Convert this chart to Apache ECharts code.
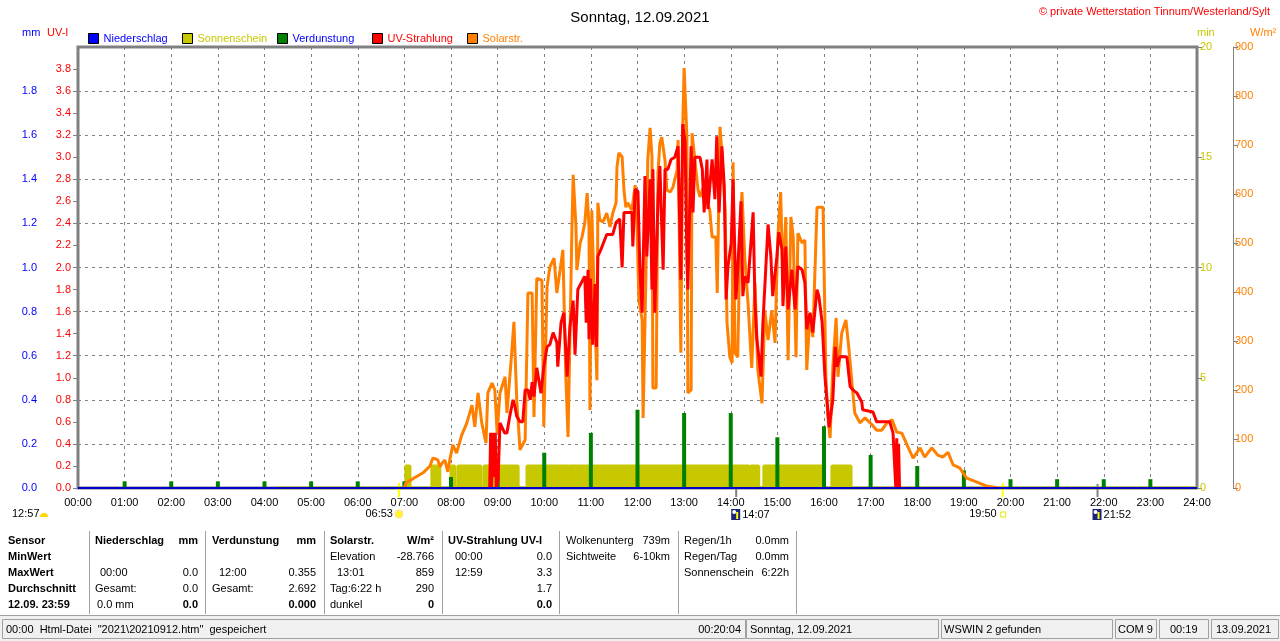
<!DOCTYPE html>
<html>
<head>
<meta charset="utf-8">
<script src="https://cdn.jsdelivr.net/npm/echarts/dist/echarts.min.js"></script>
<style>
  html, body { margin: 0; padding: 0; background: #fff; }
  #chart { width: 1280px; height: 641px; }
</style>
</head>
<body>
<div id="chart"></div>
<script type="text/javascript">
  // --- data (time in decimal hours) ---
  var rainTimes = [0, 24];
  var rainValues = [0, 0];

  var evapHours = [1, 2, 3, 4, 5, 6, 7, 8, 9, 10, 11, 12, 13, 14, 15, 16, 17, 18, 19, 20, 21, 22, 23];
  var evapValues = [0.03, 0.03, 0.03, 0.03, 0.03, 0.03, 0.03, 0.05, 0.10, 0.16, 0.25, 0.355, 0.34, 0.34, 0.23, 0.28, 0.15, 0.10, 0.08, 0.04, 0.04, 0.04, 0.04];

  // sunshine minutes: data start and periods with full sunshine (1 min per min)
  var sunDataStart = 4.28;
  var sunStart = [7.03, 7.59, 8.00, 8.15, 8.71, 9.24, 9.63, 10.53, 14.43, 14.71, 16.17];
  var sunEnd   = [7.12, 7.76, 8.08, 8.64, 9.22, 9.44, 10.51, 14.39, 14.60, 15.96, 16.58];

  // solar radiation [hour, W/m²]
  var solarPoints = [
    [7.00, 0], [7.03, 10], [7.20, 20], [7.40, 31], [7.55, 45], [7.61, 61], [7.66, 60], [7.72, 57], [7.76, 43], [7.82, 52],
    [7.87, 57], [7.93, 33], [7.98, 60], [8.04, 88], [8.12, 71], [8.23, 108], [8.34, 133], [8.45, 169], [8.51, 125], [8.58, 194],
    [8.66, 133], [8.75, 92], [8.79, 194], [8.88, 214], [8.94, 200], [8.99, 112], [9.05, 194], [9.16, 227], [9.20, 153], [9.29, 261],
    [9.35, 339], [9.41, 180], [9.48, 78], [9.59, 98], [9.65, 398], [9.74, 398], [9.78, 145], [9.84, 428], [9.95, 424], [9.99, 125],
    [10.06, 410], [10.12, 451], [10.21, 469], [10.27, 398], [10.34, 445], [10.40, 486], [10.46, 235], [10.51, 104], [10.55, 300], [10.59, 512],
    [10.62, 639], [10.68, 533], [10.70, 445], [10.77, 500], [10.81, 512], [10.87, 541], [10.92, 602], [10.96, 533], [10.98, 159], [11.02, 567],
    [11.07, 398], [11.13, 220], [11.15, 582], [11.19, 547], [11.26, 543], [11.34, 561], [11.41, 533], [11.47, 561], [11.54, 582], [11.56, 655],
    [11.60, 684], [11.67, 676], [11.71, 608], [11.75, 573], [11.79, 582], [11.88, 567], [11.95, 618], [11.99, 533], [12.03, 384], [12.10, 343],
    [12.12, 143], [12.18, 431], [12.22, 669], [12.27, 735], [12.31, 676], [12.33, 204], [12.40, 204], [12.44, 643], [12.48, 704], [12.52, 716],
    [12.59, 669], [12.63, 608], [12.70, 604], [12.76, 614], [12.85, 649], [12.87, 710], [12.93, 276], [12.97, 737], [13.00, 857], [13.06, 716],
    [13.08, 194], [13.15, 200], [13.17, 724], [13.23, 669], [13.30, 608], [13.34, 594], [13.41, 614], [13.45, 614], [13.55, 567], [13.60, 512],
    [13.68, 512], [13.71, 398], [13.77, 737], [13.81, 683], [13.88, 567], [13.92, 337], [13.98, 267], [14.03, 255], [14.05, 665], [14.09, 276],
    [14.15, 267], [14.20, 512], [14.24, 604], [14.30, 471], [14.37, 378], [14.45, 245], [14.52, 418], [14.58, 241], [14.67, 173], [14.73, 363],
    [14.80, 302], [14.88, 363], [14.95, 296], [15.01, 512], [15.07, 604], [15.12, 418], [15.18, 553], [15.23, 261], [15.29, 553], [15.34, 512],
    [15.40, 267], [15.44, 520], [15.53, 500], [15.59, 506], [15.63, 241], [15.70, 357], [15.76, 308], [15.85, 573], [15.98, 573], [16.04, 227],
    [16.08, 150], [16.13, 102], [16.19, 247], [16.26, 347], [16.30, 227], [16.38, 316], [16.47, 343], [16.53, 288], [16.60, 214], [16.66, 153],
    [16.77, 133], [16.88, 143], [17.03, 129], [17.13, 118], [17.24, 118], [17.35, 133], [17.46, 139], [17.56, 114], [17.67, 112], [17.80, 84],
    [17.91, 61], [18.06, 82], [18.16, 63], [18.31, 82], [18.44, 67], [18.55, 63], [18.66, 73], [18.77, 47], [18.91, 41], [19.06, 20],
    [19.28, 12], [19.49, 4], [19.62, 2], [19.75, 0]
  ];

  // UV index [hour, UV-I]
  var uvPoints = [
    [8.83, 0], [8.85, 0.5], [8.87, 0], [8.89, 0.5], [8.92, 0.1], [8.95, 0.5], [8.97, 0], [9.01, 0.07], [9.05, 0.59], [9.09, 0.59],
    [9.15, 0.50], [9.20, 0.50], [9.26, 0.65], [9.33, 0.80], [9.37, 0.74], [9.41, 0.65], [9.48, 0.60], [9.54, 0.60], [9.59, 0.89], [9.65, 0.89],
    [9.70, 0.80], [9.74, 0.96], [9.78, 0.83], [9.84, 1.09], [9.88, 1.09], [9.93, 0.86], [9.99, 1.10], [10.06, 1.28], [10.12, 1.30], [10.19, 1.41],
    [10.27, 1.32], [10.29, 1.10], [10.36, 1.50], [10.42, 1.59], [10.49, 1.01], [10.55, 1.46], [10.62, 1.70], [10.66, 1.21], [10.72, 1.80], [10.83, 1.89],
    [10.87, 1.92], [10.90, 1.50], [10.94, 1.98], [10.96, 1.35], [10.99, 1.90], [11.04, 1.30], [11.09, 1.85], [11.12, 1.28], [11.15, 2.10], [11.24, 2.19],
    [11.34, 2.30], [11.47, 2.30], [11.54, 2.41], [11.62, 2.44], [11.67, 2.00], [11.71, 2.50], [11.88, 2.50], [11.90, 2.19], [11.95, 2.71], [12.01, 2.69],
    [12.05, 2.01], [12.10, 1.59], [12.16, 2.83], [12.20, 2.10], [12.27, 2.80], [12.31, 1.80], [12.33, 2.89], [12.37, 1.59], [12.44, 2.62], [12.48, 2.92],
    [12.52, 2.37], [12.55, 1.98], [12.59, 2.89], [12.65, 2.89], [12.72, 2.98], [12.80, 3.00], [12.87, 3.10], [12.93, 1.89], [12.97, 3.30], [13.02, 3.14],
    [13.06, 2.07], [13.08, 1.80], [13.15, 3.10], [13.19, 2.50], [13.23, 3.00], [13.34, 3.00], [13.39, 2.89], [13.43, 2.50], [13.49, 2.98], [13.51, 2.53],
    [13.60, 2.98], [13.66, 2.62], [13.70, 3.19], [13.75, 2.50], [13.81, 3.10], [13.86, 2.74], [13.90, 1.71], [13.94, 2.01], [14.01, 2.22], [14.05, 2.80],
    [14.11, 1.71], [14.15, 1.98], [14.22, 2.60], [14.26, 1.74], [14.30, 1.92], [14.37, 1.86], [14.48, 2.50], [14.52, 1.68], [14.56, 1.35], [14.65, 1.01],
    [14.69, 1.50], [14.75, 1.98], [14.80, 2.39], [14.86, 2.10], [14.90, 1.74], [14.99, 2.10], [15.03, 2.32], [15.10, 2.16], [15.12, 1.65], [15.18, 2.19],
    [15.23, 1.62], [15.31, 1.98], [15.38, 1.62], [15.44, 2.01], [15.53, 1.98], [15.59, 1.86], [15.63, 1.44], [15.70, 1.59], [15.76, 1.41], [15.85, 1.80],
    [15.89, 1.74], [15.96, 1.50], [16.02, 1.01], [16.08, 0.71], [16.11, 0.55], [16.19, 0.80], [16.24, 1.28], [16.28, 1.10], [16.34, 1.19], [16.49, 1.19],
    [16.56, 0.92], [16.62, 0.89], [16.71, 0.86], [16.81, 0.78], [16.83, 0.71], [17.05, 0.69], [17.13, 0.60], [17.41, 0.60], [17.48, 0.50], [17.52, 0.50],
    [17.54, 0], [17.56, 0.45], [17.58, 0], [17.60, 0.40], [17.62, 0]
  ];

  // sun / moon times shown under the axis
  var sunrise = '06:53', sunset = '19:50', moonrise = '14:07', moonset = '21:52', dayMark = '12:57';

  function zip(t, v) {
    var out = [];
    for (var i = 0; i < t.length; i++) out.push([t[i], v[i]]);
    return out;
  }
  function toHours(s) {
    var p = s.split(':');
    return parseInt(p[0], 10) + parseInt(p[1], 10) / 60;
  }

  // sunshine blocks as a filled outline
  var sunData = [[sunDataStart, 0]];
  for (var i = 0; i < sunStart.length; i++) {
    sunData.push([sunStart[i], 0], [sunStart[i], 1], [sunEnd[i], 1], [sunEnd[i], 0]);
  }
  sunData.push([24, 0]);

  var FONT = 'Liberation Sans, Arial, sans-serif';
  var GRAY = '#808080';

  var chart = echarts.init(document.getElementById('chart'), null, { renderer: 'canvas' });

  function oneLegend(name, color, left) {
    return {
      left: left, top: 33, padding: 0, itemWidth: 10, itemHeight: 10, itemGap: 0, icon: 'rect',
      selectedMode: false,
      itemStyle: { borderColor: '#000', borderWidth: 1 },
      textStyle: { fontSize: 11, fontFamily: FONT, color: color },
      data: [{ name: name, textStyle: { color: color } }]
    };
  }

  var option = {
    animation: false,
    textStyle: { fontFamily: FONT },
    title: {
      text: 'Sonntag, 12.09.2021', left: 'center', top: 5,
      textStyle: { fontSize: 15, fontWeight: 'normal', color: '#000', fontFamily: FONT }
    },
    legend: [
      oneLegend('Niederschlag', '#0000ff', 88),
      oneLegend('Sonnenschein', '#c8c800', 182),
      oneLegend('Verdunstung', '#0000ff', 277),
      oneLegend('UV-Strahlung', '#ff0000', 372),
      oneLegend('Solarstr.', '#ff8000', 467)
    ],
    grid: {
      left: 78, right: 83, top: 47, bottom: 153,
      show: true, borderColor: GRAY, borderWidth: 3
    },
    xAxis: {
      type: 'value', min: 0, max: 24, interval: 1,
      axisLine: { show: false },
      axisTick: { show: false },
      axisLabel: {
        color: '#000', fontSize: 11, margin: 9,
        formatter: function (v) { return (v < 10 ? '0' : '') + v + ':00'; }
      },
      splitLine: { show: true, lineStyle: { color: GRAY, type: [3, 4], width: 1 } }
    },
    yAxis: [
      {
        type: 'value', position: 'left', offset: 38, min: 0, max: 2, interval: 0.2,
        axisLine: { show: true, lineStyle: { color: GRAY } },
        axisTick: { show: true, length: 4, lineStyle: { color: GRAY } },
        axisLabel: { color: '#0000ff', fontSize: 11, margin: 3, showMaxLabel: false,
          formatter: function (v) { return v.toFixed(1); } },
        splitLine: { show: true, lineStyle: { color: GRAY, type: [3, 4], width: 1 } }
      },
      {
        type: 'value', position: 'left', offset: 0, min: 0, max: 4, interval: 0.2,
        axisLine: { show: false },
        axisTick: { show: true, length: 5, lineStyle: { color: GRAY } },
        axisLabel: { color: '#ff0000', fontSize: 11, margin: 7, showMaxLabel: false,
          formatter: function (v) { return v.toFixed(1); } },
        splitLine: { show: false }
      },
      {
        type: 'value', position: 'right', offset: 0, min: 0, max: 20, interval: 5,
        axisLine: { show: false },
        axisTick: { show: true, length: 5, lineStyle: { color: GRAY } },
        axisLabel: { color: '#c8c800', fontSize: 11, margin: 3 },
        splitLine: { show: false }
      },
      {
        type: 'value', position: 'right', offset: 36, min: 0, max: 900, interval: 100,
        axisLine: { show: true, lineStyle: { color: GRAY } },
        axisTick: { show: true, length: 5, lineStyle: { color: GRAY } },
        axisLabel: { color: '#ff8000', fontSize: 11, margin: 2 },
        splitLine: { show: false }
      }
    ],
    series: [
      {
        name: 'Sonnenschein', type: 'line', yAxisIndex: 2, data: sunData,
        symbol: 'none', z: 1, color: '#c8c800',
        lineStyle: { color: '#c8c800', width: 3 },
        areaStyle: { color: '#c8c800', opacity: 1 }
      },
      {
        name: 'Verdunstung', type: 'bar', yAxisIndex: 0, data: zip(evapHours, evapValues),
        barWidth: 4, z: 2, itemStyle: { color: '#008000' }
      },
      {
        name: 'Solarstr.', type: 'line', yAxisIndex: 3, data: solarPoints,
        symbol: 'none', z: 3, color: '#ff8000',
        lineStyle: { color: '#ff8000', width: 3 }
      },
      {
        name: 'UV-Strahlung', type: 'line', yAxisIndex: 1, data: uvPoints,
        symbol: 'none', z: 4, color: '#ff0000',
        lineStyle: { color: '#ff0000', width: 3 }
      },
      {
        name: 'Niederschlag', type: 'line', yAxisIndex: 0, data: zip(rainTimes, rainValues),
        symbol: 'none', z: 5, color: '#0000ff',
        lineStyle: { color: '#0000c8', width: 2 }
      }
    ]
  };
  chart.setOption(option);

  // --- annotations, table and status bar ---
  function txt(s, x, y, color, align, bold, size) {
    return {
      type: 'text', x: x, y: y, silent: true,
      style: {
        text: s, fill: color || '#000', textAlign: align || 'left', textVerticalAlign: 'middle',
        font: (bold ? 'bold ' : '') + (size || 11) + 'px ' + FONT
      }
    };
  }
  function vline(x, y1, y2, color, w) {
    return { type: 'line', silent: true, shape: { x1: x, y1: y1, x2: x, y2: y2 },
      style: { stroke: color, lineWidth: w || 1 } };
  }
  function px(t) { return chart.convertToPixel({ xAxisIndex: 0 }, t); }

  var g = [];
  g.push(txt('© private Wetterstation Tinnum/Westerland/Sylt', 1270, 12, '#ff0000', 'right', false, 11));
  g.push(txt('mm', 22, 33, '#0000ff'));
  g.push(txt('UV-I', 47, 33, '#ff0000'));
  g.push(txt('min', 1197, 33, '#c8c800'));
  g.push(txt('W/m²', 1250, 33, '#ff8000'));

  // day length marker on the far left
  g.push(txt(dayMark, 12, 514));
  g.push({ type: 'sector', silent: true, shape: { cx: 44, cy: 517, r: 4, startAngle: Math.PI, endAngle: 2 * Math.PI },
    style: { fill: '#ffd800' } });

  // sunrise
  var xr = px(toHours(sunrise));
  g.push(vline(xr, 483, 497, '#ffff00', 2));
  g.push({ type: 'circle', silent: true, shape: { cx: xr, cy: 514, r: 3.5 }, style: { fill: '#ffff00', stroke: '#ffe680', lineWidth: 2 } });
  g.push(txt(sunrise, xr - 6, 514, '#000', 'right'));
  // sunset
  var xs = px(toHours(sunset));
  g.push(vline(xs, 483, 497, '#ffff00', 2));
  g.push({ type: 'rect', silent: true, shape: { x: xs - 2, y: 512, width: 5, height: 5 }, style: { fill: 'none', stroke: '#e6e600', lineWidth: 1 } });
  g.push(txt(sunset, xs - 6, 514, '#000', 'right'));
  // moonrise / moonset
  [moonrise, moonset].forEach(function (m) {
    var xm = px(toHours(m));
    g.push(vline(xm, 484, 497, GRAY, 2));
    g.push({ type: 'rect', silent: true, shape: { x: xm - 5, y: 509, width: 9, height: 11 }, style: { fill: '#1a237e' } });
    g.push({ type: 'circle', silent: true, shape: { cx: xm - 2, cy: 512, r: 2 }, style: { fill: '#fff' } });
    g.push(vline(xm + 1, 512, 519, '#ffff00', 2));
    g.push(txt(m, xm + 6, 515));
  });

  // table
  var rowY = [541, 557, 573, 589, 605];
  var cells = [
    ['Sensor', 8, 0, 'left', true], ['MinWert', 8, 1, 'left', true], ['MaxWert', 8, 2, 'left', true],
    ['Durchschnitt', 8, 3, 'left', true], ['12.09. 23:59', 8, 4, 'left', true],
    ['Niederschlag', 95, 0, 'left', true], ['mm', 198, 0, 'right', true],
    ['00:00', 100, 2, 'left'], ['0.0', 198, 2, 'right'], ['Gesamt:', 95, 3, 'left'], ['0.0', 198, 3, 'right'],
    ['0.0 mm', 97, 4, 'left'], ['0.0', 198, 4, 'right', true],
    ['Verdunstung', 212, 0, 'left', true], ['mm', 316, 0, 'right', true],
    ['12:00', 219, 2, 'left'], ['0.355', 316, 2, 'right'], ['Gesamt:', 212, 3, 'left'], ['2.692', 316, 3, 'right'],
    ['0.000', 316, 4, 'right', true],
    ['Solarstr.', 330, 0, 'left', true], ['W/m²', 434, 0, 'right', true],
    ['Elevation', 330, 1, 'left'], ['-28.766', 434, 1, 'right'], ['13:01', 337, 2, 'left'], ['859', 434, 2, 'right'],
    ['Tag:6:22 h', 330, 3, 'left'], ['290', 434, 3, 'right'], ['dunkel', 330, 4, 'left'], ['0', 434, 4, 'right', true],
    ['UV-Strahlung UV-I', 448, 0, 'left', true],
    ['00:00', 455, 1, 'left'], ['0.0', 552, 1, 'right'], ['12:59', 455, 2, 'left'], ['3.3', 552, 2, 'right'],
    ['1.7', 552, 3, 'right'], ['0.0', 552, 4, 'right', true],
    ['Wolkenunterg', 566, 0, 'left'], ['739m', 670, 0, 'right'], ['Sichtweite', 566, 1, 'left'], ['6-10km', 670, 1, 'right'],
    ['Regen/1h', 684, 0, 'left'], ['0.0mm', 789, 0, 'right'], ['Regen/Tag', 684, 1, 'left'], ['0.0mm', 789, 1, 'right'],
    ['Sonnenschein', 684, 2, 'left'], ['6:22h', 789, 2, 'right']
  ];
  cells.forEach(function (c) { g.push(txt(c[0], c[1], rowY[c[2]], '#000', c[3], c[4])); });
  [89, 205, 324, 442, 559, 678, 796].forEach(function (x) {
    g.push(vline(x + 0.5, 531, 614, '#a0a0a0', 1));
    g.push(vline(x + 1.5, 531, 614, '#ffffff', 1));
  });

  // status bar
  g.push({ type: 'rect', silent: true, shape: { x: 0, y: 615, width: 1280, height: 26 }, style: { fill: '#f0f0f0' } });
  g.push({ type: 'line', silent: true, shape: { x1: 0, y1: 615.5, x2: 1280, y2: 615.5 }, style: { stroke: '#a0a0a0', lineWidth: 1 } });
  [[2, 743], [746, 192], [941, 171], [1115, 41], [1159, 49], [1211, 67]].forEach(function (p) {
    g.push({ type: 'rect', silent: true, shape: { x: p[0] + 0.5, y: 619.5, width: p[1], height: 19 },
      style: { fill: '#f0f0f0', stroke: '#a0a0a0', lineWidth: 1 } });
  });
  g.push(txt('00:00  Html-Datei  "2021\\20210912.htm"  gespeichert', 6, 630));
  g.push(txt('00:20:04', 741, 630, '#000', 'right'));
  g.push(txt('Sonntag, 12.09.2021', 750, 630));
  g.push(txt('WSWIN 2 gefunden', 944, 630));
  g.push(txt('COM 9', 1118, 630));
  g.push(txt('00:19', 1170, 630));
  g.push(txt('13.09.2021', 1216, 630));

  chart.setOption({ graphic: { elements: g } });
</script>
</body>
</html>
